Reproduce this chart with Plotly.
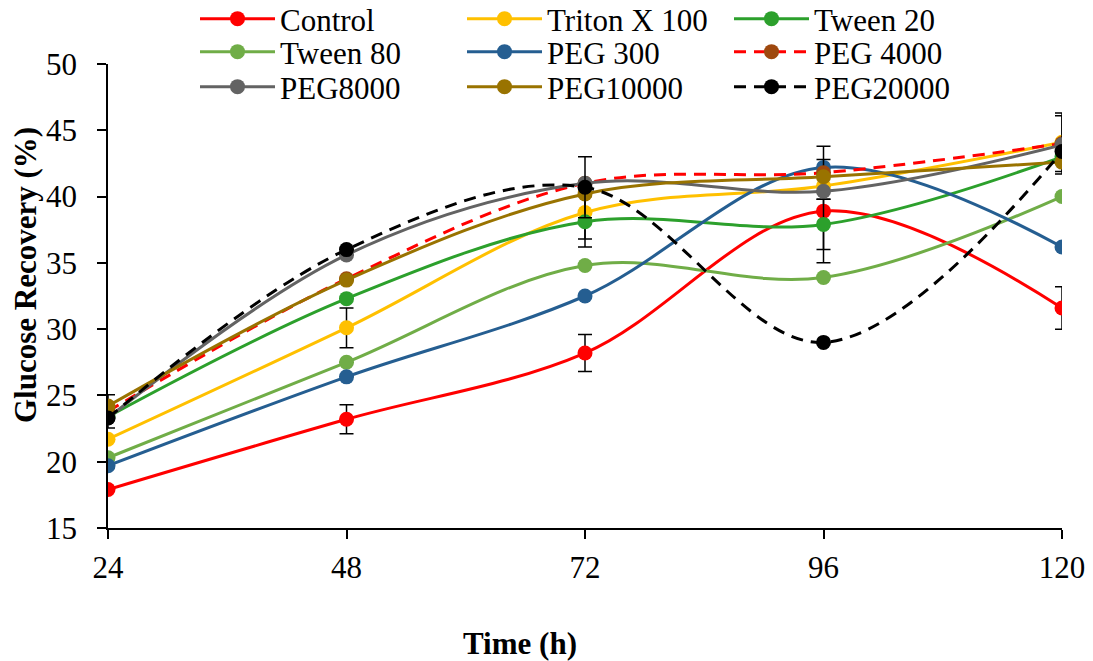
import plotly.graph_objects as go

time_h = [24, 48, 72, 96, 120]

names = ["Control", "Triton X 100", "Tween 20", "Tween 80", "PEG 300",
         "PEG 4000", "PEG8000", "PEG10000", "PEG20000"]

control = [17.9, 23.2, 28.2, 38.9, 31.6]
triton_x100 = [21.7, 30.1, 38.8, 40.8, 44.1]
tween20 = [23.4, 32.3, 38.1, 37.9, 43.0]
tween80 = [20.3, 27.5, 34.8, 33.9, 40.0]
peg300 = [19.7, 26.4, 32.5, 42.2, 36.2]
peg4000 = [23.8, 33.8, 41.0, 41.8, 44.0]
peg8000 = [23.3, 35.6, 41.0, 40.4, 43.9]
peg10000 = [24.2, 33.7, 40.2, 41.5, 42.6]
peg20000 = [23.3, 36.0, 40.7, 29.0, 43.4]

err_control = [None, 1.1, 1.4, 3.9, 1.6]
err_triton = [None, 1.5, 2.0, None, 2.2]
err_tween20 = [None, None, 1.9, 1.9, None]
err_tween80 = [None, None, None, None, None]
err_peg300 = [None, None, None, None, None]
err_peg4000 = [1.25, None, None, 2.0, None]
err_peg8000 = [None, None, None, None, 2.2]
err_peg10000 = [None, None, None, None, None]
err_peg20000 = [None, None, 2.3, None, None]

values = [control, triton_x100, tween20, tween80, peg300, peg4000, peg8000, peg10000, peg20000]
errors = [err_control, err_triton, err_tween20, err_tween80, err_peg300,
          err_peg4000, err_peg8000, err_peg10000, err_peg20000]
line_colors = ["#FF0000", "#FFC000", "#2CA02C", "#70AD47", "#255E91",
               "#FF0000", "#636363", "#997300", "#000000"]
marker_colors = ["#FF0000", "#FFC000", "#2CA02C", "#70AD47", "#255E91",
                 "#9E480E", "#636363", "#997300", "#000000"]
dashes = ["solid"] * 5 + ["12px,8px"] + ["solid", "solid", "12px,8px"]
legend_ids = ["legend", "legend", "legend", "legend2", "legend2", "legend2",
              "legend3", "legend3", "legend3"]

FONT = "Liberation Serif"
FS = 31

fig = go.Figure()
for name, ys, err, lc, mc, ds, lg in zip(names, values, errors, line_colors,
                                         marker_colors, dashes, legend_ids):
    fig.add_trace(go.Scatter(
        x=time_h, y=ys, name=name, mode="lines+markers",
        line=dict(color=lc, width=3, shape="spline", smoothing=1.0, dash=ds),
        marker=dict(color=mc, size=15),
        error_y=dict(type="data", array=err, visible=True, color="black",
                     thickness=1.5, width=7),
        legend=lg,
    ))

leg_common = dict(orientation="h", xref="container", yref="container",
                  xanchor="left", yanchor="middle", itemwidth=75,
                  entrywidth=177, entrywidthmode="pixels",
                  font=dict(family=FONT, size=FS, color="black"),
                  bgcolor="rgba(0,0,0,0)", itemclick=False)

fig.update_layout(
    width=1093, height=661,
    margin=dict(l=108, r=31, t=64, b=133, autoexpand=False),
    paper_bgcolor="white", plot_bgcolor="white",
    font=dict(family=FONT, size=FS, color="black"),
    xaxis=dict(range=[24, 120], tickvals=time_h, showline=True, linecolor="black",
               linewidth=1.5, ticks="outside", ticklen=9, tickwidth=1.5,
               tickcolor="black", showgrid=False, zeroline=False,
               ticklabelstandoff=2, tickfont=dict(family=FONT, size=FS, color="black")),
    yaxis=dict(range=[15, 50], dtick=5, showline=True, linecolor="black",
               linewidth=1.5, ticks="outside", ticklen=9, tickwidth=1.5,
               tickcolor="black", showgrid=False, zeroline=False,
               ticklabelstandoff=14, tickfont=dict(family=FONT, size=FS, color="black")),
    legend=dict(x=195 / 1093, y=1 - 19 / 661, **leg_common),
    legend2=dict(x=195 / 1093, y=1 - 52 / 661, **leg_common),
    legend3=dict(x=195 / 1093, y=1 - 87 / 661, **leg_common),
    showlegend=True,
    annotations=[
        dict(text="<b>Time (h)</b>", xref="paper", yref="paper",
             x=(520 - 108) / 954, y=-(643 - 528) / 464, xanchor="center",
             yanchor="middle", showarrow=False,
             font=dict(family=FONT, size=FS, color="black")),
        dict(text="<b>Glucose Recovery (%)</b>", xref="paper", yref="paper",
             x=(25 - 108) / 954, y=(528 - 275) / 464, xanchor="center",
             yanchor="middle", textangle=-90, showarrow=False,
             font=dict(family=FONT, size=FS, color="black")),
    ],
)

fig.write_html("out.html")
